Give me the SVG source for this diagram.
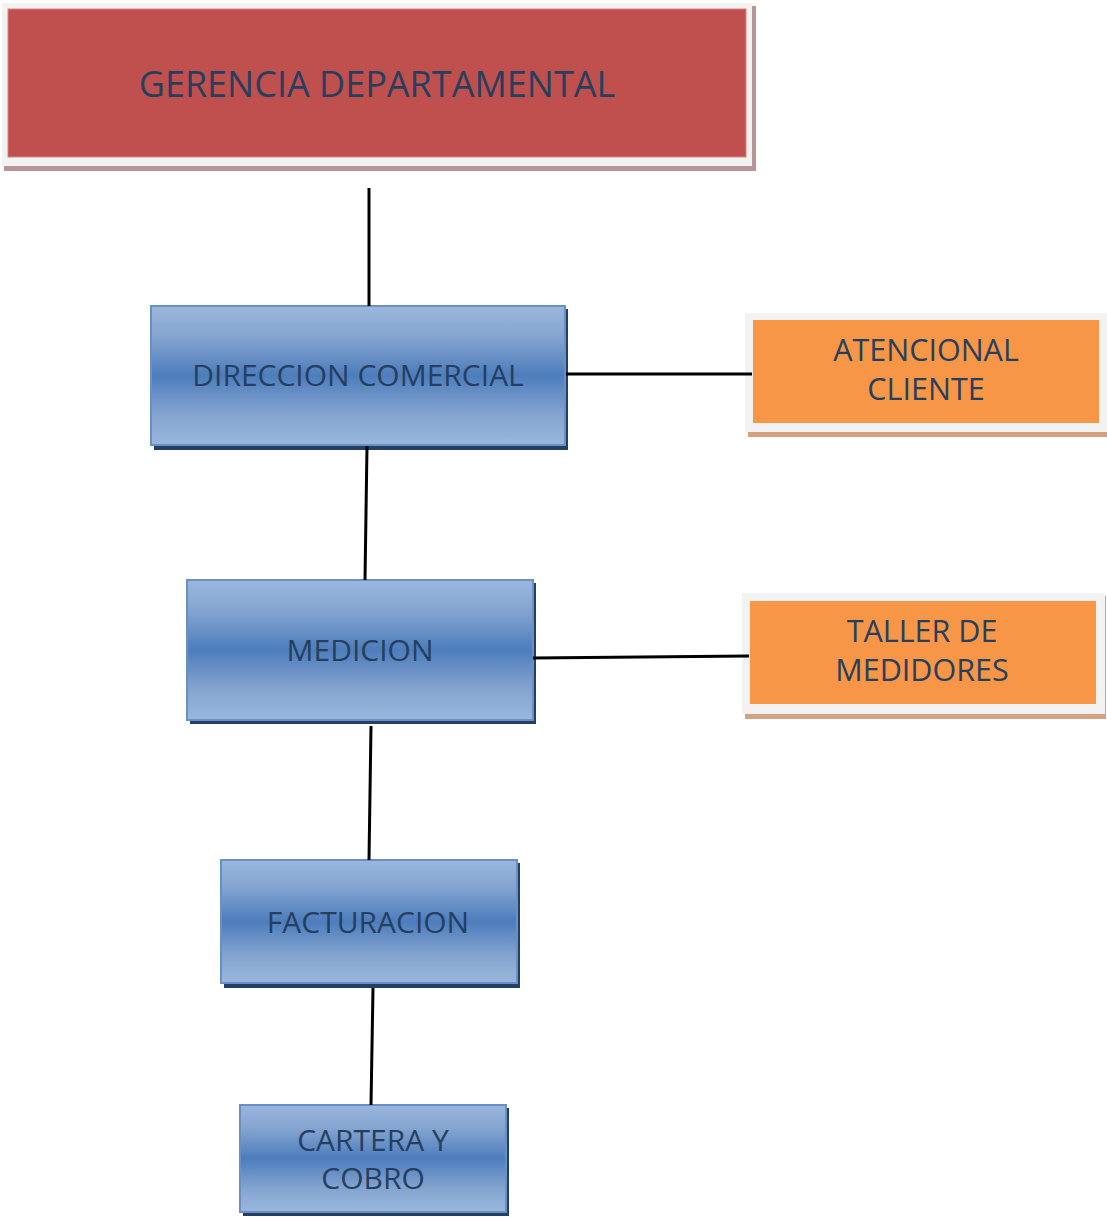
<svg xmlns="http://www.w3.org/2000/svg" width="1107" height="1217" viewBox="0 0 1107 1217">
<defs>
<linearGradient id="blueGrad" x1="0" y1="0" x2="0" y2="1">
<stop offset="0" stop-color="#9ab7dc"/>
<stop offset="0.22" stop-color="#84a4d0"/>
<stop offset="0.5" stop-color="#4d7dbc"/>
<stop offset="0.78" stop-color="#84a4d0"/>
<stop offset="1" stop-color="#9ab7dc"/>
</linearGradient>
<style>
.txt{font-family:"Open Sans","Noto Sans","Liberation Sans",sans-serif;fill:#263f5f;text-anchor:middle;}
.blue{fill:url(#blueGrad);stroke:#6990c6;stroke-width:2;}
.bshadow{fill:#243f62;}
.orange{fill:#f79646;}
.frame{fill:#f2f2f2;}
.oshadow{fill:#d4a17f;}
.conn{stroke:#000;stroke-width:3;fill:none;}
</style>
</defs>
<rect width="1107" height="1217" fill="#ffffff"/>
<g id="gerencia">
<rect x="4" y="6" width="752" height="165" fill="#b89494"/>
<rect x="2" y="3" width="750" height="163" class="frame"/>
<rect x="8" y="9" width="738" height="148" fill="#c0504d" stroke="#d9827f" stroke-width="1"/>
<text class="txt" x="377" y="97" font-size="36">GERENCIA DEPARTAMENTAL</text>
</g>
<g id="direccion">
<rect x="154" y="309" width="414" height="141" class="bshadow"/>
<rect x="151" y="306" width="414" height="139" class="blue"/>
<text class="txt" x="358" y="386" font-size="30">DIRECCION COMERCIAL</text>
</g>
<g id="atencion">
<rect x="748" y="316" width="359" height="121" class="oshadow"/>
<rect x="745" y="313" width="362" height="119" class="frame"/>
<rect x="753" y="320" width="346" height="103" class="orange"/>
<text class="txt" x="926" y="361" font-size="30.5">ATENCIONAL</text>
<text class="txt" x="926" y="400" font-size="30.5">CLIENTE</text>
</g>
<g id="medicion">
<rect x="190" y="583" width="346" height="141" class="bshadow"/>
<rect x="187" y="580" width="346" height="140" class="blue"/>
<text class="txt" x="360" y="661" font-size="30">MEDICION</text>
</g>
<g id="taller">
<rect x="745" y="596" width="361" height="123" class="oshadow"/>
<rect x="742" y="593" width="363" height="121" class="frame"/>
<rect x="750" y="601" width="346" height="103" class="orange"/>
<text class="txt" x="922" y="642" font-size="30.5">TALLER DE</text>
<text class="txt" x="922" y="681" font-size="30.5">MEDIDORES</text>
</g>
<g id="facturacion">
<rect x="224" y="863" width="296" height="125" class="bshadow"/>
<rect x="221" y="860" width="296" height="123" class="blue"/>
<text class="txt" x="368" y="933" font-size="30">FACTURACION</text>
</g>
<g id="cartera">
<rect x="243" y="1108" width="266" height="108" class="bshadow"/>
<rect x="240" y="1105" width="266" height="107" class="blue"/>
<text class="txt" x="373" y="1151" font-size="30">CARTERA Y</text>
<text class="txt" x="373" y="1189" font-size="30">COBRO</text>
</g>
<g id="connectors">
<line class="conn" x1="369" y1="188" x2="369" y2="306"/>
<line class="conn" x1="566" y1="374" x2="752" y2="374"/>
<line class="conn" x1="367" y1="446" x2="365" y2="580"/>
<line class="conn" x1="533" y1="658" x2="749" y2="656"/>
<line class="conn" x1="371" y1="726" x2="369" y2="860"/>
<line class="conn" x1="373" y1="988" x2="371" y2="1105"/>
</g>
</svg>
